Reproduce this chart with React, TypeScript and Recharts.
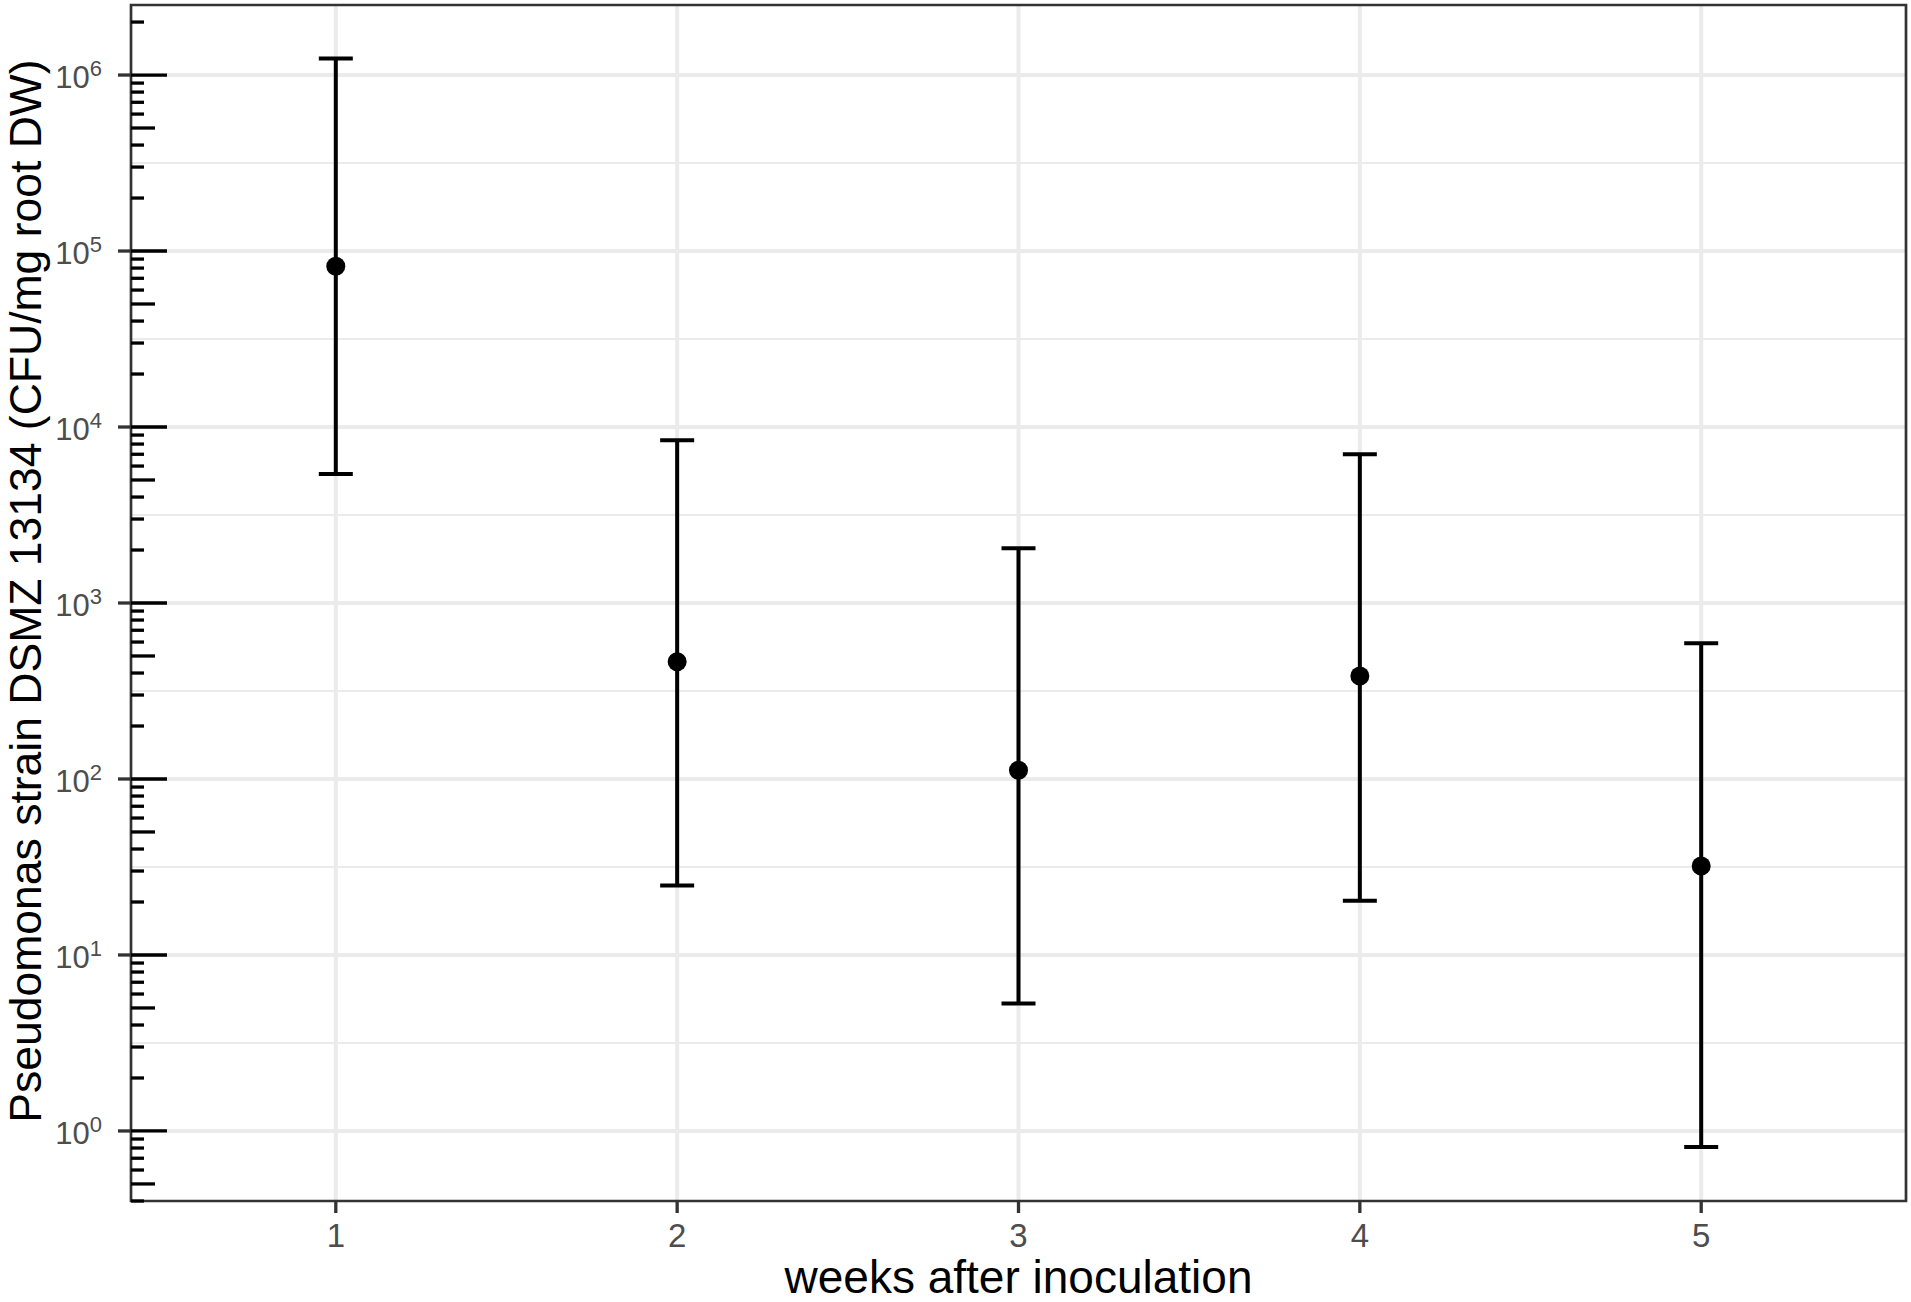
import React from "react";
import {
  CartesianGrid,
  ComposedChart,
  ErrorBar,
  ReferenceArea,
  Scatter,
  XAxis,
  YAxis,
} from "recharts";

// weeks after inoculation and CFU/mg root DW (mean with lower / upper limits)
const weeks = [1, 2, 3, 4, 5];
const means = [82000, 464, 112, 385, 32];
const lowers = [5400, 24.8, 5.3, 20.3, 0.81];
const uppers = [1240000, 8400, 2050, 7000, 590];

const decades = [1, 10, 100, 1000, 10000, 100000, 1000000];
const minorBreaks = [3.162, 31.62, 316.2, 3162, 31623, 316228];
const logMultipliers = [1, 2, 3, 4, 5, 6, 7, 8, 9];
const yDomain = [0.4, 2500000];
const xDomain = [0.4, 5.6];

const logTicks = [0.1, ...decades]
  .flatMap((d) => logMultipliers.map((m) => +(d * m).toPrecision(3)))
  .filter((v) => v >= yDomain[0] && v <= yDomain[1]);

const rows = weeks.map((week, i) => ({
  week,
  mean: means[i],
  err: [means[i] - lowers[i], uppers[i] - means[i]],
}));

const FONT = "'Liberation Sans', Arial, sans-serif";

function LogTick(props: any) {
  const { x, y, payload } = props;
  const v = payload.value;
  const lg = Math.log10(v);
  const exp = Math.round(lg);
  const isDecade = Math.abs(lg - exp) < 1e-6;
  const lead = v / Math.pow(10, Math.floor(lg + 1e-6));
  const len = isDecade ? 36 : Math.abs(lead - 5) < 1e-6 ? 24 : 13;
  return (
    <g>
      <line x1={x} x2={x + len} y1={y} y2={y} stroke="#000" strokeWidth={3.3} />
      {isDecade && (
        <>
          <line x1={x - 13} x2={x} y1={y} y2={y} stroke="#333" strokeWidth={3.3} />
          <text
            x={x - 29}
            y={y + 13}
            textAnchor="end"
            fill="#4D4D4D"
            fontSize={31}
            fontFamily={FONT}
          >
            10
            <tspan dy={-12} fontSize={22}>
              {exp}
            </tspan>
          </text>
        </>
      )}
    </g>
  );
}

function YTitle(props: any) {
  const vb = props.viewBox || { x: 0, y: 5, height: 1196 };
  const cy = vb.y + vb.height / 2;
  return (
    <text
      transform={`translate(41, ${cy - 12}) rotate(-90)`}
      textAnchor="middle"
      fill="#000"
      fontSize={44.5}
      fontFamily={FONT}
    >
      Pseudomonas strain DSMZ 13134 (CFU/mg root DW)
    </text>
  );
}

export default function App() {
  return (
    <div
      style={{
        position: "absolute",
        left: 0,
        top: 0,
        width: 1911,
        height: 1302,
        background: "#fff",
        fontFamily: FONT,
      }}
    >
      <ComposedChart
        width={1911}
        height={1302}
        data={rows}
        margin={{ top: 5, right: 5, bottom: 0, left: 0 }}
      >
        <CartesianGrid
          vertical={false}
          horizontalValues={minorBreaks}
          stroke="#EBEBEB"
          strokeWidth={2}
        />
        <CartesianGrid
          horizontalValues={decades}
          verticalValues={weeks}
          stroke="#EBEBEB"
          strokeWidth={4}
        />
        <XAxis
          type="number"
          dataKey="week"
          domain={xDomain}
          ticks={weeks}
          interval={0}
          allowDataOverflow
          height={101}
          axisLine={false}
          tickSize={12}
          tickMargin={11}
          tickLine={{ stroke: "#333", strokeWidth: 3.3 }}
          tick={{ fill: "#4D4D4D", fontSize: 33, fontFamily: FONT }}
          label={{
            value: "weeks after inoculation",
            position: "insideBottom",
            offset: 9,
            fill: "#000",
            fontSize: 46,
            fontFamily: FONT,
          }}
        />
        <YAxis
          type="number"
          dataKey="mean"
          scale="log"
          domain={yDomain}
          ticks={logTicks}
          interval={0}
          allowDataOverflow
          width={131}
          axisLine={false}
          tickLine={false}
          tickSize={0}
          tickMargin={0}
          tick={<LogTick />}
          label={{ content: <YTitle /> }}
        />
        <Scatter
          dataKey="mean"
          fill="#000"
          isAnimationActive={false}
          shape={(p: any) => <circle cx={p.cx} cy={p.cy} r={9.5} fill="#000" />}
        >
          <ErrorBar
            dataKey="err"
            direction="y"
            width={17}
            stroke="#000"
            strokeWidth={4}
            isAnimationActive={false}
          />
        </Scatter>
        <ReferenceArea
          x1={xDomain[0]}
          x2={xDomain[1]}
          y1={yDomain[0]}
          y2={yDomain[1]}
          fill="none"
          stroke="#333"
          strokeWidth={2.7}
          ifOverflow="visible"
        />
      </ComposedChart>
    </div>
  );
}
